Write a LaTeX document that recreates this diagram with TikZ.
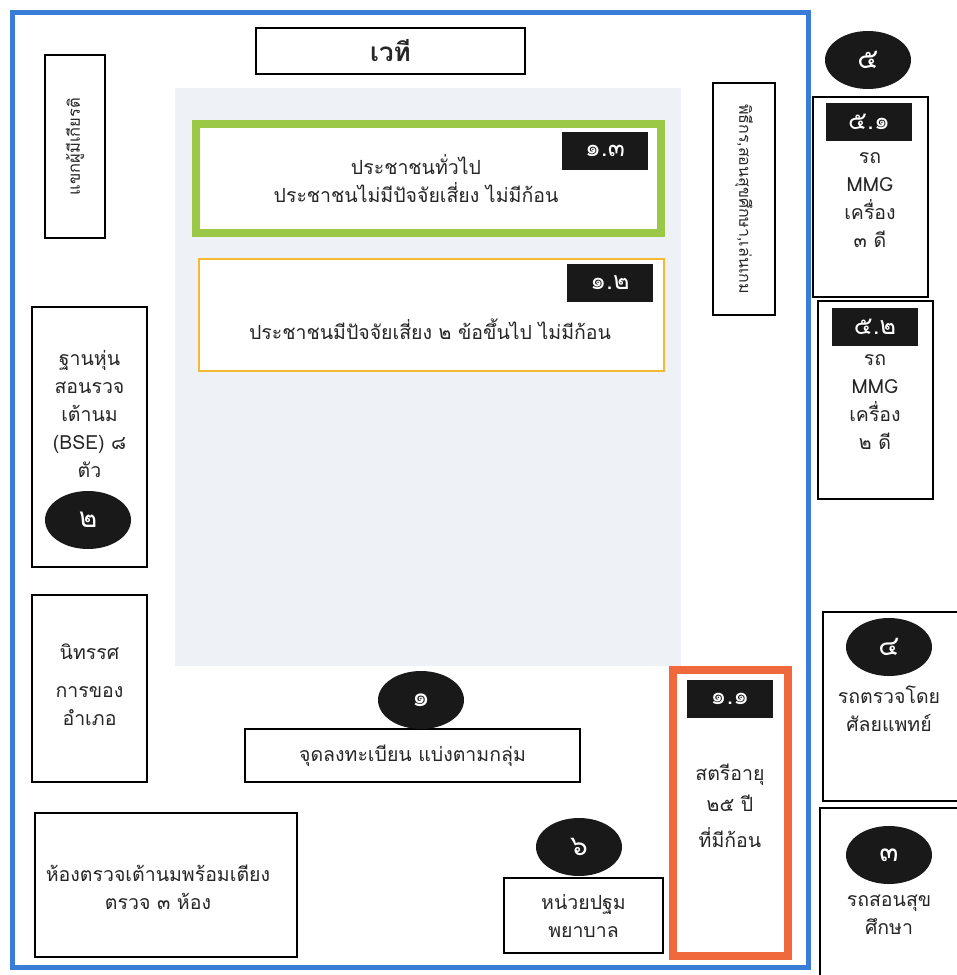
\documentclass[tikz,border=0pt]{standalone}
\usepackage{fontspec}
\setmainfont[Script=Thai]{Loma}
\usetikzlibrary{shapes.geometric}
\definecolor{hallblue}{RGB}{58,125,215}
\definecolor{zonegrey}{RGB}{238,242,246}
\definecolor{zonegreen}{RGB}{155,200,70}
\definecolor{zonegold}{RGB}{245,185,50}
\definecolor{zoneorange}{RGB}{240,105,60}
\begin{document}
\begin{tikzpicture}[x=1pt, y=-1pt,
  every node/.style={font=\fontsize{19.5}{28}\selectfont, text=black!85},
  roombox/.style={draw=black, line width=2.2pt, rectangle, inner sep=0pt, align=center},
  tagbox/.style={fill=black!90, text=white, minimum width=86, minimum height=38, inner sep=0pt, font=\fontsize{25}{28}\selectfont},
  numdot/.style={ellipse, fill=black!90, text=white, minimum width=86, minimum height=58, inner sep=0pt, font=\fontsize{28}{28}\selectfont}]
\fill[white] (0,0) rectangle (957,975);
\useasboundingbox (0,0) rectangle (957,975);
% hall and waiting area
\fill[zonegrey] (175,88) rectangle (681,666);
\draw[hallblue, line width=5pt] (12,12) rectangle (808,967);
\node[roombox, minimum width=269, minimum height=46, font=\fontsize{26}{28}\selectfont\bfseries] (stage) at (390.5,51) {เวที};
\node[roombox, rotate=90, minimum width=183, minimum height=60, font=\fontsize{16.5}{18}\selectfont] (guests) at (75,146.5) {แขกผู้มีเกียรติ};
\node[roombox, rotate=-90, minimum width=232, minimum height=62, font=\fontsize{16}{18}\selectfont] (host) at (744,199) {พิธีกร,สอนสุขศึกษา,เล่นเกม};
% zones 1.3 and 1.2
\node[draw=zonegreen, fill=white, line width=8pt, minimum width=465, minimum height=109] (zone13) at (428.5,178.5) {};
\node[align=center] (zone13text) at (416,179) {ประชาชนทั่วไป\\ประชาชนไม่มีปัจจัยเสี่ยง ไม่มีก้อน};
\node[tagbox] (tag13) at (605,151) {๑.๓};
\node[draw=zonegold, fill=white, line width=2.5pt, minimum width=465, minimum height=112] (zone12) at (431.5,315) {};
\node (zone12text) at (430,329) {ประชาชนมีปัจจัยเสี่ยง ๒ ข้อขึ้นไป ไม่มีก้อน};
\node[tagbox] (tag12) at (610,282.5) {๑.๒};
% left side
\node[roombox, minimum width=115, minimum height=260] (bse) at (89.5,437) {};
\node[align=center] (bsetext) at (89.5,413.5) {ฐานหุ่น\\สอนรวจ\\เต้านม\\(BSE) ๘\\ตัว};
\node[numdot] (dot2) at (88,520) {๒};
\node[roombox, minimum width=115, minimum height=187] (expo) at (89.5,688.5) {};
\node[align=center] (expotext) at (89.5,684.5) {นิทรรศ\\[10pt]การของ\\อำเภอ};
\node[roombox, minimum width=262, minimum height=144] (exam) at (166,885) {};
\node[align=center] (examtext) at (158,887.5) {ห้องตรวจเต้านมพร้อมเตียง\\ตรวจ ๓ ห้อง};
% registration and first aid
\node[roombox, minimum width=335, minimum height=53] (register) at (412.5,755.5) {จุดลงทะเบียน แบ่งตามกลุ่ม};
\node[numdot] (dot1) at (421,700) {๑};
\node[roombox, minimum width=159, minimum height=75] (firstaid) at (583.5,915.5) {หน่วยปฐม\\พยาบาล};
\node[numdot] (dot6) at (579,847) {๖};
% zone 1.1
\node[draw=zoneorange, fill=white, line width=8pt, minimum width=115, minimum height=286] (zone11) at (730.5,813) {};
\node[tagbox] (tag11) at (730,699) {๑.๑};
\node[align=center] (zone11text) at (730,806) {สตรีอายุ\\[3pt]๒๕ ปี\\[8pt]ที่มีก้อน};
% outside: cars
\node[numdot] (dot5) at (868,60) {๕};
\node[roombox, minimum width=115, minimum height=200] (mmg1) at (870.5,197) {};
\node[tagbox] (tag51) at (869,121.5) {๕.๑};
\node[align=center] (mmg1text) at (870,200) {รถ\\MMG\\เครื่อง\\๓ ดี};
\node[roombox, minimum width=115, minimum height=198] (mmg2) at (875.5,400) {};
\node[tagbox] (tag52) at (875,326.5) {๕.๒};
\node[align=center] (mmg2text) at (875,402) {รถ\\MMG\\เครื่อง\\๒ ดี};
\node[roombox, minimum width=137, minimum height=189] (surgeon) at (891.5,706.5) {};
\node[numdot] (dot4) at (889,647) {๔};
\node[align=center] (surgeontext) at (889,708.5) {รถตรวจโดย\\ศัลยแพทย์};
\node[roombox, minimum width=142, minimum height=172] (healthcar) at (891,894) {};
\node[numdot] (dot3) at (889,855) {๓};
\node[align=center] (healthtext) at (889,915) {รถสอนสุข\\ศึกษา};
\end{tikzpicture}
\end{document}
